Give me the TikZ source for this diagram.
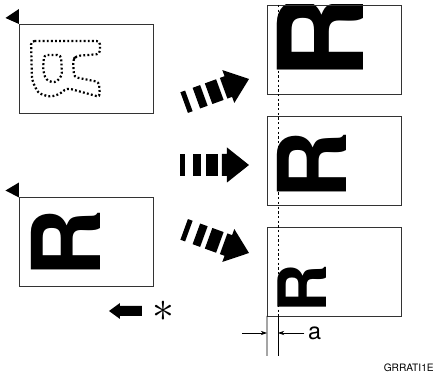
\documentclass[tikz,border=0pt]{standalone}
\usepackage{fontspec}
\setmainfont{TeX Gyre Heros}
\usepackage{tikz}
\usetikzlibrary{arrows.meta,calc,positioning}

\tikzset{
	sheet/.style={draw=black!80,line width=0.8pt,minimum width=4.02cm,minimum height=2.67cm,inner sep=0pt,outer sep=0pt},
	rletter/.style={rotate=90,inner sep=0pt,text=black},
	dotline/.style={line width=1.9pt,dash pattern=on 1.6pt off 1.9pt,rounded corners=3pt},
	dimline/.style={line width=0.6pt},
	dimarrow/.style={line width=0.6pt,-{Stealth[length=1.9mm,width=1.3mm]}},
}

\begin{document}
\begin{tikzpicture}[x=0.03cm,y=-0.03cm,>=Stealth]
		\useasboundingbox (0,0) rectangle (434,375);
		% left originals
		\node[sheet] (glassA) at (86,68.5) {};
		\node[sheet] (glassB) at (86,242) {};
		\fill (glassA.north west) -- ++(0,-15) -- ++(-13.5,9) -- cycle;
		\fill (glassB.north west) -- ++(0,-15) -- ++(-13.5,8) -- cycle;
		\draw[dotline] (31,41) -- (100,41) -- (100,54) -- (76,56) -- (73,60) -- (74,77) -- (99,82) -- (100,97) -- (67,88) -- (60,94) -- (50,97) -- (38,93) -- (32,80) -- cycle;
		\draw[dotline] (44,55) -- (61,55) -- (62,76) -- (55,83) -- (46,80) -- (43,70) -- cycle;
		\node[rletter,font=\bfseries\fontsize{81}{81}\selectfont] (letterB) at (66,243) {R};
		% small arrow and star
		\fill (109,311) -- (120,303) -- (120,306) -- (142,306) -- (142,316) -- (120,316) -- (120,319) -- cycle;
		\node[font=\fontsize{24.88}{30}\selectfont,inner sep=0pt,scale=1.5,transform shape] (star) at (163,311) {$\ast$};
		% fat arrows
		\foreach \tipy/\ang in {79/20,165/0,253/-20}{
			\begin{scope}[shift={(249,\tipy)},rotate=\ang]
				\fill (-69,-11) rectangle (-64,11);
				\fill (-56,-11) rectangle (-48,11);
				\fill (-43,-11) rectangle (-31,11);
				\fill (0,0) -- (-22,-17.5) -- (-22,-11) -- (-27,-11) -- (-27,11) -- (-22,11) -- (-22,17.5) -- cycle;
			\end{scope}
		}
		% right copies
		\begin{scope}
			\clip (267,5) rectangle (401,94);
			\node[rletter,font=\bfseries\fontsize{101}{101}\selectfont] (letterC) at (320,37) {R};
		\end{scope}
		\node[rletter,font=\bfseries\fontsize{81}{81}\selectfont] (letterD) at (311.5,165.5) {R};
		\node[rletter,font=\bfseries\fontsize{57}{57}\selectfont] (letterE) at (302,288.5) {R};
		\node[sheet] (copyA) at (334,49.5) {};
		\node[sheet] (copyB) at (334,160.5) {};
		\node[sheet] (copyC) at (334,271.5) {};
		% margin a
		\coordinate (marginTop) at (278,5);
		\coordinate (marginBot) at (278,316);
		\coordinate (marginEnd) at (278,356);
		\coordinate (edgeEnd) at (267,356);
		\coordinate (leftTail) at (242,333);
		\draw[line width=0.8pt,dash pattern=on 2pt off 2pt] (marginTop) -- (marginBot);
		\draw[dimline] (marginBot) -- (marginEnd);
		\draw[dimline] (copyC.south west) -- (edgeEnd);
		\draw[dimarrow] (leftTail) -- (267,333);
		\node[font=\fontsize{20}{20}\selectfont,inner sep=0pt,anchor=west] (marginLabel) at (308,333) {a};
		\draw[dimarrow,shorten <=3pt] (marginLabel.west) -- (278,333);
		\node[font=\fontsize{8.7}{10}\selectfont,inner sep=0pt,anchor=east] (codeLabel) at (434,368) {GRRATI1E};
\end{tikzpicture}
\end{document}
